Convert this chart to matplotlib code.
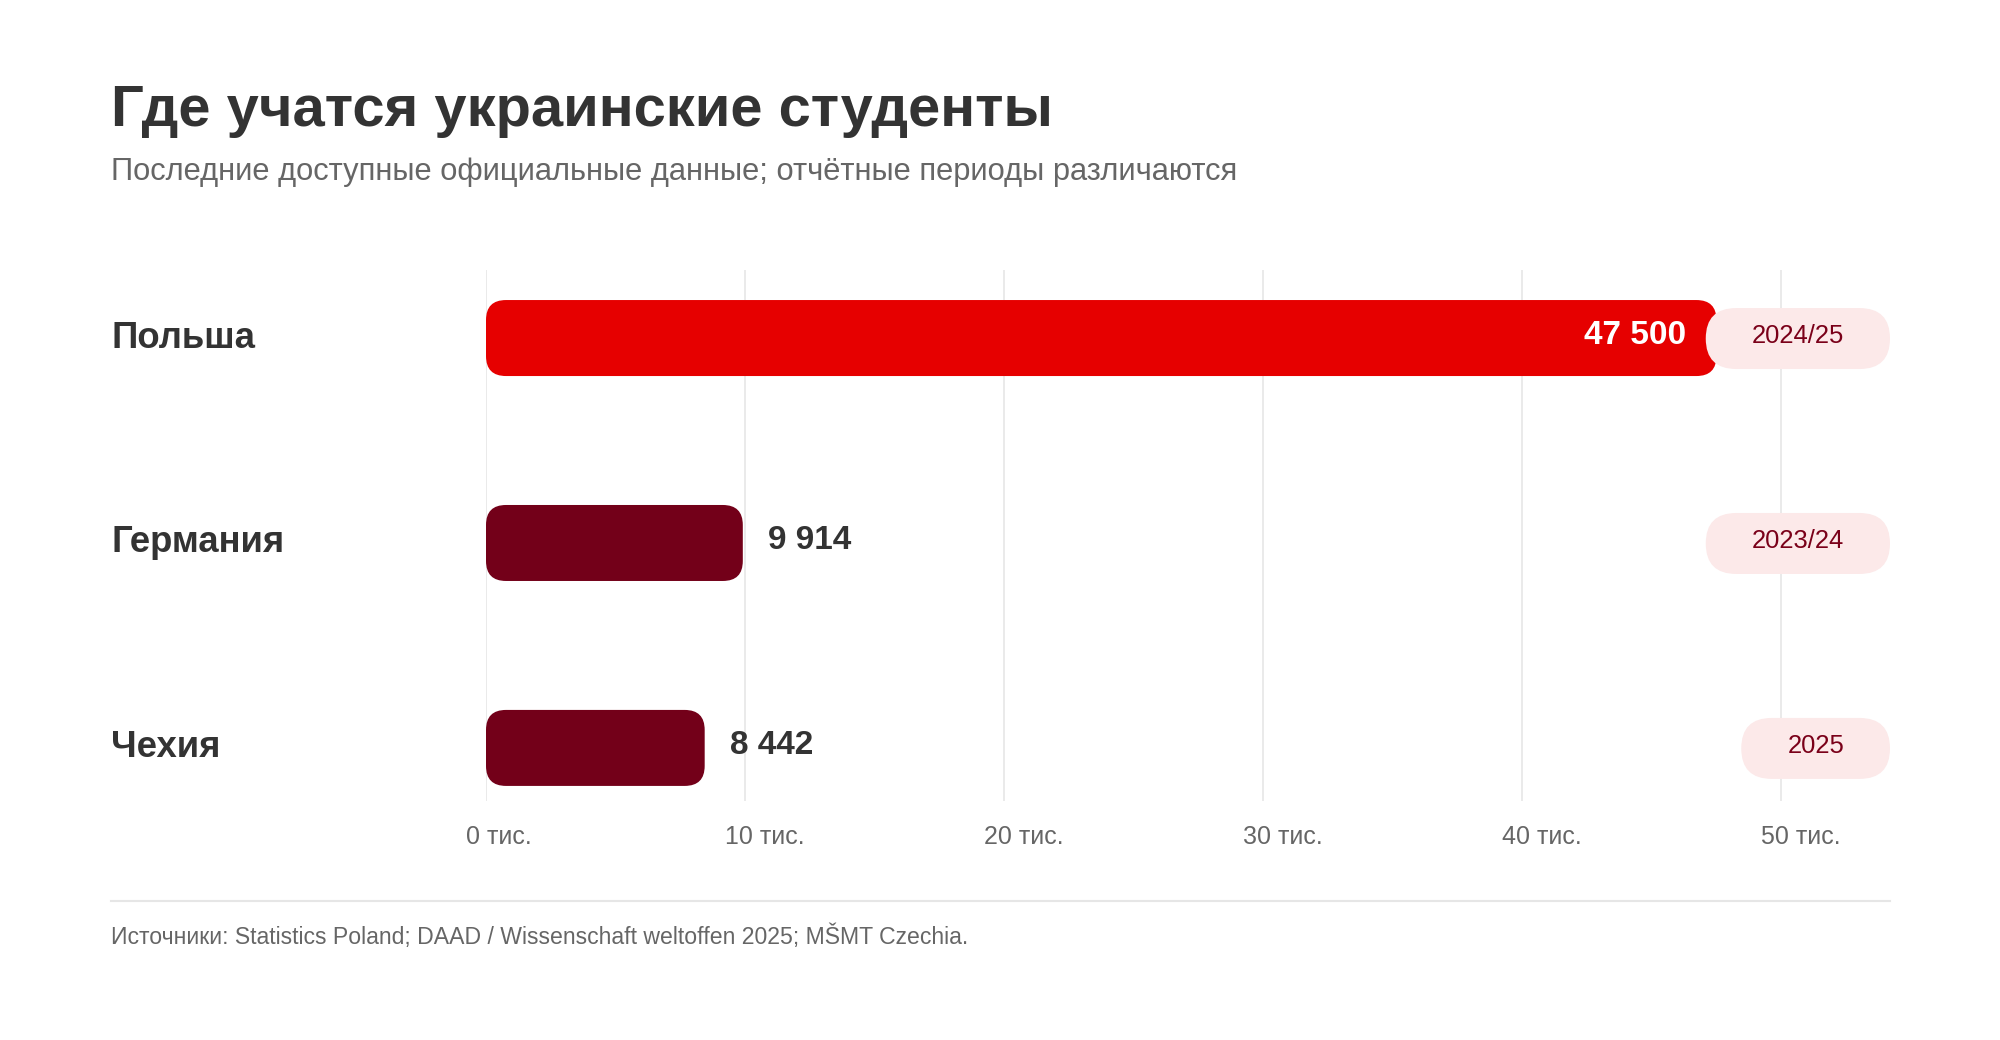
import matplotlib
matplotlib.use('Agg')
import matplotlib.pyplot as plt
from matplotlib.patches import FancyBboxPatch
from matplotlib.lines import Line2D
from matplotlib import transforms

plt.rcParams['font.family'] = ['Liberation Sans', 'DejaVu Sans']

# data
countries = ['Польша', 'Германия', 'Чехия']
students = [47500, 9914, 8442]
value_labels = ['47 500', '9 914', '8 442']
periods = ['2024/25', '2023/24', '2025']
ticks = [0, 10000, 20000, 30000, 40000, 50000]
tick_labels = ['0 тис.', '10 тис.', '20 тис.', '30 тис.', '40 тис.', '50 тис.']

title = 'Где учатся украинские студенты'
subtitle = 'Последние доступные официальные данные; отчётные периоды различаются'
source = 'Источники: Statistics Poland; DAAD / Wissenschaft weltoffen 2025; MŠMT Czechia.'

W, H = 2000, 1040
fig = plt.figure(figsize=(W / 100, H / 100), dpi=100)
fig.patch.set_facecolor('white')


def fx(px):
    return px / W


def fy(py):
    return 1 - py / H


# axes in pixel positions
ax_l, ax_r, ax_t, ax_b = 486, 1890, 270, 801
ax = fig.add_axes([fx(ax_l), fy(ax_b), fx(ax_r) - fx(ax_l), fy(ax_t) - fy(ax_b)])
xmax = 54200
ax.set_xlim(0, xmax)
ax.set_ylim(2.259, -0.332)
for s in ax.spines.values():
    s.set_visible(False)
ax.set_yticks([])

px_x = (ax_r - ax_l) / xmax
px_y = (ax_b - ax_t) / (2.259 + 0.332)

# grid
ax.set_xticks(ticks, tick_labels)
ax.tick_params(axis='x', length=0, pad=17, labelsize=18, labelcolor='#666666')
for lab in ax.get_xticklabels():
    lab.set_horizontalalignment('left')
    lab.set_transform(lab.get_transform() + transforms.ScaledTranslation(-20 / 100, 0, fig.dpi_scale_trans))
ax.grid(axis='x', color='#e6e6e6', linewidth=1.2)
ax.set_axisbelow(True)

# bars (rounded)
bar_h = 76 / px_y
colors = ['#e60000' if v == max(students) else '#730019' for v in students]
bars = ax.barh(range(len(students)), students, height=bar_h, color=colors)
r = 20
for b, c in zip(bars, colors):
    x0, y0 = b.get_x(), b.get_y()
    w, h = b.get_width(), b.get_height()
    b.remove()
    p = FancyBboxPatch((x0, y0), w, h,
                       boxstyle=f'round,pad=0,rounding_size={r / px_x}',
                       mutation_aspect=px_x / px_y,
                       facecolor=c, edgecolor='none', zorder=3)
    ax.add_patch(p)

# value labels
for i, (v, lab) in enumerate(zip(students, value_labels)):
    if v == max(students):
        tr = transforms.offset_copy(ax.transData, fig=fig, x=-30, y=-6, units='dots')
        ax.text(v, i, lab, transform=tr, ha='right', va='baseline', color='white',
                fontsize=24, fontweight='bold', zorder=6)
    else:
        tr = transforms.offset_copy(ax.transData, fig=fig, x=25, y=-6, units='dots')
        ax.text(v, i, lab, transform=tr, ha='left', va='baseline', color='#333333',
                fontsize=24, fontweight='bold', zorder=6)

# category labels
blend = transforms.blended_transform_factory(fig.transFigure, ax.transData)
for i, name in enumerate(countries):
    tr = transforms.offset_copy(blend, fig=fig, x=0, y=-9.5, units='dots')
    fig.text(fx(111), i, name, transform=tr, ha='left', va='baseline',
             fontsize=26.3, fontweight='bold', color='#333333')

# period pills
renderer = fig.canvas.get_renderer()
pill_h = 61 / px_y
for i, per in enumerate(periods):
    t = ax.text(0, i, per, fontsize=18.4, color='#7a0019', ha='center', va='baseline', zorder=8)
    tw = t.get_window_extent(renderer).width
    pw = (tw + 92) / px_x
    cx = xmax - pw / 2
    t.set_x(cx)
    t.set_transform(transforms.offset_copy(ax.transData, fig=fig, x=0, y=-5, units='dots'))
    pill = FancyBboxPatch((xmax - pw, i + 0.5 / px_y - pill_h / 2), pw, pill_h,
                          boxstyle=f'round,pad=0,rounding_size={30.5 / px_x}',
                          mutation_aspect=px_x / px_y,
                          facecolor='#fce9e9', edgecolor='none', zorder=7, clip_on=False)
    ax.add_patch(pill)

# titles
fig.text(fx(111), fy(126), title, ha='left', va='baseline', fontsize=41.7,
         fontweight='bold', color='#333333')
fig.text(fx(111), fy(180.5), subtitle, ha='left', va='baseline', fontsize=22.2,
         color='#666666')

# footer
fig.add_artist(Line2D([fx(111), fx(1890)], [fy(900.5), fy(900.5)], color='#e6e6e6', linewidth=1.5))
fig.text(fx(111), fy(944), source, ha='left', va='baseline', fontsize=16.6, color='#666666')

fig.savefig('out.png', dpi=100)
